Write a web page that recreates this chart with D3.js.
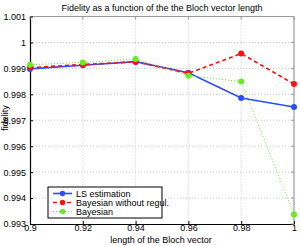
<!DOCTYPE html>
<html>
<head>
<meta charset="utf-8">
<script src="https://cdn.jsdelivr.net/npm/d3@7"></script>
<style>
  body { margin: 0; background: #fff; }
  text { font-family: "Liberation Sans", Arial, sans-serif; }
</style>
</head>
<body>
<div id="chart-area"></div>
<script>
// data
const lengths = [0.9, 0.92, 0.94, 0.96, 0.98, 1.0];
const lsValues = [0.99898, 0.99912, 0.99926, 0.99883, 0.99786, 0.99751];
const bayesNoRegValues = [0.99903, 0.99915, 0.99925, 0.99881, 0.99957, 0.99840];
const bayesValues = [0.99914, 0.99923, 0.99936, 0.99872, 0.99849, 0.99337];
const xTicks = [0.9, 0.92, 0.94, 0.96, 0.98, 1];
const yTicks = [0.993, 0.994, 0.995, 0.996, 0.997, 0.998, 0.999, 1, 1.001];
const seriesNames = ["LS estimation", "Bayesian without regul.", "Bayesian"];

const WIDTH = 300, HEIGHT = 245;
const MARGIN = { LEFT: 30, RIGHT: 6, TOP: 16.5, BOTTOM: 21 };
const innerW = WIDTH - MARGIN.LEFT - MARGIN.RIGHT;
const innerH = HEIGHT - MARGIN.TOP - MARGIN.BOTTOM;

const svg = d3.select("#chart-area").append("svg")
  .attr("width", WIDTH).attr("height", HEIGHT);

const g = svg.append("g")
  .attr("transform", `translate(${MARGIN.LEFT}, ${MARGIN.TOP})`);

const x = d3.scaleLinear().domain([0.9, 1]).range([0, innerW]);
const y = d3.scaleLinear().domain([0.993, 1.001]).range([innerH, 0]);

// grid
g.append("g").selectAll("line").data(xTicks.slice(1, -1)).join("line")
  .attr("x1", d => x(d)).attr("x2", d => x(d))
  .attr("y1", 0).attr("y2", innerH)
  .attr("stroke", "#bbb").attr("stroke-width", 0.8).attr("stroke-dasharray", "1,2");
g.append("g").selectAll("line").data(yTicks.slice(1, -1)).join("line")
  .attr("x1", 0).attr("x2", innerW)
  .attr("y1", d => y(d)).attr("y2", d => y(d))
  .attr("stroke", "#bbb").attr("stroke-width", 0.8).attr("stroke-dasharray", "1,2");

// box: top and right gray
g.append("line").attr("x1", 0).attr("x2", innerW).attr("y1", 0).attr("y2", 0)
  .attr("stroke", "#999").attr("stroke-width", 1.2);
g.append("line").attr("x1", innerW).attr("x2", innerW).attr("y1", 0).attr("y2", innerH)
  .attr("stroke", "#999").attr("stroke-width", 1.2);

// axes
const xAxis = g.append("g").attr("transform", `translate(0, ${innerH})`)
  .call(d3.axisBottom(x).tickValues(xTicks).tickSizeInner(-3).tickSizeOuter(0)
    .tickPadding(1).tickFormat(d => d3.format("")(+d.toFixed(2))));
const yAxis = g.append("g")
  .call(d3.axisLeft(y).tickValues(yTicks).tickSizeInner(-3).tickSizeOuter(0)
    .tickPadding(4).tickFormat(d => d3.format("")(+d.toFixed(3))));
[xAxis, yAxis].forEach(a => {
  a.select(".domain").attr("stroke", "#000").attr("stroke-width", 1.2);
  a.selectAll(".tick line").attr("stroke", "#000");
  a.selectAll("text").attr("font-size", "9px").attr("fill", "#000")
    .attr("font-family", "Liberation Sans, Arial, sans-serif");
});
// mirrored ticks on top/right
g.append("g").selectAll("line").data(xTicks).join("line")
  .attr("x1", d => x(d)).attr("x2", d => x(d)).attr("y1", 0).attr("y2", 3)
  .attr("stroke", "#999");
g.append("g").selectAll("line").data(yTicks).join("line")
  .attr("x1", innerW - 3).attr("x2", innerW).attr("y1", d => y(d)).attr("y2", d => y(d))
  .attr("stroke", "#999");

// series
const series = [
  { name: seriesNames[0], values: lsValues, color: "#2b4cff", dash: null, width: 1.6 },
  { name: seriesNames[1], values: bayesNoRegValues, color: "#ff1010", dash: "4,3", width: 1.6 },
  { name: seriesNames[2], values: bayesValues, color: "#66ee22", dash: "1,2", width: 1 }
];
const line = d3.line().x((d, i) => x(lengths[i])).y(d => y(d));

series.forEach(s => {
  g.append("path").datum(s.values)
    .attr("d", line).attr("fill", "none")
    .attr("stroke", s.color).attr("stroke-width", s.width)
    .attr("stroke-dasharray", s.dash);
  g.append("g").selectAll("circle").data(s.values).join("circle")
    .attr("cx", (d, i) => x(lengths[i])).attr("cy", d => y(d))
    .attr("r", 3).attr("fill", s.color);
});

// legend
const legend = g.append("g").attr("transform", `translate(${48 - MARGIN.LEFT}, ${187 - MARGIN.TOP})`);
legend.append("rect").attr("width", 114).attr("height", 31)
  .attr("fill", "#fff").attr("stroke", "#000").attr("stroke-width", 1);
series.forEach((s, i) => {
  const ly = 6.5 + i * 9;
  legend.append("line").attr("x1", 5).attr("x2", 24).attr("y1", ly).attr("y2", ly)
    .attr("stroke", s.color).attr("stroke-width", s.width).attr("stroke-dasharray", s.dash);
  legend.append("circle").attr("cx", 14.5).attr("cy", ly).attr("r", 2.7).attr("fill", s.color);
  legend.append("text").attr("x", 28).attr("y", ly + 3.2)
    .attr("font-size", "9px").text(s.name);
});

// labels
svg.append("text").attr("x", MARGIN.LEFT + innerW / 2).attr("y", 11)
  .attr("text-anchor", "middle").attr("font-size", "9px").text("Fidelity as a function of the the Bloch vector length");
svg.append("text").attr("x", MARGIN.LEFT + innerW / 2 - 1).attr("y", 243)
  .attr("text-anchor", "middle").attr("font-size", "9px").text("length of the Bloch vector");
svg.append("text").attr("transform", `translate(8, 118) rotate(-90)`)
  .attr("text-anchor", "middle").attr("font-size", "9px").text("fidelity");
</script>
</body>
</html>
